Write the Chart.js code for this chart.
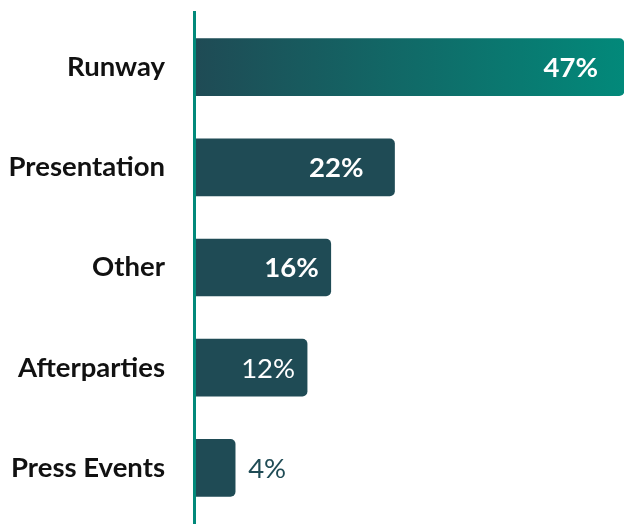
<!DOCTYPE html>
<html>
<head>
<meta charset="utf-8">
<script src="https://cdn.jsdelivr.net/npm/chart.js@4/dist/chart.umd.min.js"></script>
<style>
  body { margin: 0; background: #fff; }
</style>
</head>
<body>
<canvas id="venueChart" width="624" height="524"></canvas>
<script>
var categories = ['Runway', 'Presentation', 'Other', 'Afterparties', 'Press Events'];
// bar lengths
var shares = [47, 21.8, 14.8, 12.2, 4.3];
var shareLabels = ['47%', '22%', '16%', '12%', '4%'];

var DARK = '#1f4b55';
var TEAL = '#02897a';

// labels at the bar end; bold ones inside, light ones small bars
var valueLabels = {
    id: 'valueLabels',
    afterDatasetsDraw: function (chart) {
        var ctx = chart.ctx;
        var meta = chart.getDatasetMeta(0);
        var insets = [26, 31, 12, 12];
        ctx.save();
        ctx.textBaseline = 'middle';
        meta.data.forEach(function (bar, i) {
            var txt = shareLabels[i];
            if (i < 4) {
                ctx.font = (i < 3 ? 'bold ' : '') + '27.5px Lato';
                ctx.fillStyle = '#ffffff';
                ctx.textAlign = 'right';
                ctx.fillText(txt, bar.x - insets[i], bar.y + 1);
            } else {
                ctx.font = '27.5px Lato';
                ctx.fillStyle = DARK;
                ctx.textAlign = 'left';
                ctx.fillText(txt, bar.x + 13, bar.y + 1);
            }
        });
        ctx.restore();
    }
};

// teal axis line, longer than the plot area
var axisLine = {
    id: 'axisLine',
    afterDatasetsDraw: function (chart) {
        var ctx = chart.ctx;
        var x = chart.chartArea.left - 1.5;
        ctx.save();
        ctx.strokeStyle = TEAL;
        ctx.lineWidth = 3;
        ctx.beginPath();
        ctx.moveTo(x, 11);
        ctx.lineTo(x, chart.height);
        ctx.stroke();
        ctx.restore();
    }
};

var ctx = document.getElementById('venueChart').getContext('2d');
var chart = new Chart(ctx, {
    type: 'bar',
    data: {
        labels: categories,
        datasets: [{
            data: shares,
            backgroundColor: function (c) {
                if (c.dataIndex !== 0 || !c.chart.chartArea) return DARK;
                var a = c.chart.chartArea;
                var g = c.chart.ctx.createLinearGradient(a.left, 0, a.right, 0);
                g.addColorStop(0, DARK);
                g.addColorStop(1, TEAL);
                return g;
            },
            borderWidth: 0,
            borderSkipped: 'start',
            borderRadius: { topRight: 5, bottomRight: 5, topLeft: 0, bottomLeft: 0 },
            barThickness: 57
        }]
    },
    options: {
        indexAxis: 'y',
        responsive: false,
        animation: false,
        layout: {
            padding: { top: 17, bottom: 6, left: 0, right: 0 }
        },
        plugins: {
            legend: { display: false },
            tooltip: { enabled: false }
        },
        scales: {
            x: {
                display: false,
                min: 0,
                max: 47
            },
            y: {
                afterFit: function (scale) { scale.width = 196; },
                border: { display: false },
                grid: { display: false, drawTicks: true, tickLength: 31 },
                ticks: {
                    padding: 0,
                    color: '#111111',
                    font: { family: 'Lato', size: 27.5, weight: 'bold', lineHeight: 0.4 }
                }
            }
        }
    },
    plugins: [axisLine, valueLabels]
});
</script>
</body>
</html>
